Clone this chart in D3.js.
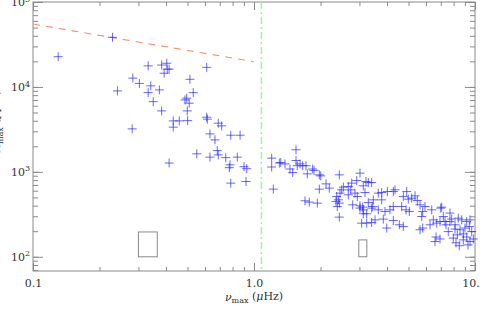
<!DOCTYPE html>
<html>
<head>
<meta charset="utf-8">
<script src="https://cdn.jsdelivr.net/npm/d3@7"></script>
<style>
  body { margin: 0; background: #fff; }
</style>
</head>
<body>
<svg width="480" height="319"></svg>
<script>
// axis ticks / labels
const xMajor = [0.1, 1, 10];
const xLabels = ["0.1", "1.0", "10."];
const yMajor = [1e2, 1e3, 1e4, 1e5];
const yExponents = ["2", "3", "4", "5"];

// stars below the cut (nu_max in muHz, amplitude)
const lowStars = [
  [0.130, 22700], [0.229, 38400], [0.332, 17700], [0.382, 18100], [0.403, 19000],
  [0.405, 16200], [0.413, 16200], [0.392, 14500], [0.611, 17000], [0.283, 12700],
  [0.303, 11000], [0.341, 10300], [0.332, 8570], [0.373, 9220], [0.241, 8970],
  [0.513, 12300], [0.531, 8570], [0.496, 7370], [0.487, 7030], [0.509, 6430],
  [0.350, 6710], [0.382, 5220], [0.499, 5220], [0.611, 4400], [0.615, 4170],
  [0.431, 3980], [0.459, 3980], [0.501, 4010], [0.431, 3360], [0.281, 3210],
  [0.689, 3740], [0.714, 3480], [0.632, 2800], [0.666, 2380], [0.785, 2700],
  [0.865, 2700], [0.551, 1630], [0.682, 1780], [0.689, 1585], [0.632, 1490],
  [0.745, 1470], [0.840, 1490], [0.413, 1270], [0.779, 1210], [0.773, 1120],
  [0.901, 1150], [0.927, 1090], [0.785, 736], [0.920, 770]
];

// stars above the cut
const highStars = [
  [1.202, 1450], [1.202, 1140], [1.223, 626], [1.302, 1270], [1.549, 1820],
  [1.321, 1290], [1.381, 1240], [1.455, 1080], [1.497, 981], [1.549, 1360],
  [1.570, 1180], [1.615, 1240], [1.661, 1180], [1.719, 1180], [1.743, 947],
  [1.843, 1080], [1.868, 1040], [1.975, 922], [2.004, 897], [2.432, 922],
  [3.017, 965], [1.975, 626], [2.118, 722], [2.191, 643], [1.701, 456],
  [1.779, 440], [1.934, 428], [2.367, 512], [2.407, 468], [2.350, 447],
  [2.432, 428], [2.382, 391], [2.494, 614], [2.536, 661], [2.671, 671],
  [2.768, 736], [2.916, 790], [2.739, 614], [2.864, 561], [2.934, 512],
  [2.671, 536], [2.450, 561], [2.797, 409], [3.017, 374], [3.122, 357],
  [3.212, 770], [3.290, 748], [3.122, 684], [3.179, 571], [3.290, 435],
  [3.444, 391], [3.017, 398], [3.122, 321], [3.236, 321], [2.432, 293],
  [3.070, 249], [3.236, 249], [3.408, 253],
  [3.408, 748], [3.651, 561], [3.783, 571], [4.011, 586], [4.269, 586],
  [3.466, 468], [3.783, 468], [3.408, 374], [3.651, 357], [3.914, 341],
  [4.125, 357], [4.269, 391], [3.528, 272], [3.847, 278], [3.986, 218],
  [4.269, 267], [4.738, 512], [4.991, 477], [5.172, 491], [5.483, 460],
  [5.639, 409], [4.659, 391], [4.873, 357], [5.044, 341], [5.940, 391],
  [5.799, 341], [6.371, 357], [6.995, 374], [7.704, 327], [5.739, 298],
  [6.478, 272], [6.944, 260], [7.316, 260], [7.704, 260], [4.545, 238],
  [4.738, 227], [5.639, 208], [5.799, 218], [6.709, 249], [7.391, 238],
  [8.122, 238], [8.404, 285], [8.707, 272], [9.172, 260], [9.493, 272],
  [8.122, 212], [8.554, 208], [9.010, 218], [9.424, 227], [9.663, 198],
  [8.318, 181], [8.852, 186], [9.172, 171], [6.662, 171], [6.944, 162],
  [6.592, 151], [7.570, 198], [7.976, 166], [8.492, 135], [9.493, 151],
  [9.825, 162], [8.852, 158], [7.846, 278], [6.259, 238], [7.189, 298],
  [4.345, 614], [4.909, 586], [5.352, 522], [7.068, 384], [3.103, 384],
  [9.296, 138], [8.204, 146]
];

// upper limit line and the cut
const limitNu = [0.1, 1.0];
const limitAmp = [55000, 19800];
const cutNu = 1.08;

// error boxes: nu0, nu1, amp0, amp1
const boxes = [
  [0.30, 0.365, 100, 196],
  [2.98, 3.24, 100, 158]
];

const svg = d3.select("svg"),
    width = +svg.attr("width"),
    height = +svg.attr("height");
const margin = { top: 2, right: 5, bottom: 48, left: 33 };
const axisColor = "#8a8a8a";
const textColor = "#333";
const fontFam = "'DejaVu Serif', 'Liberation Serif', serif";

const x = d3.scaleLog().domain([0.1, 10]).range([margin.left, width - margin.right]);
const y = d3.scaleLog().domain([68, 1e5]).range([height - margin.bottom, margin.top]);
const bottomY = height - margin.bottom;
const rightX = width - margin.right;

// frame
svg.append("rect")
    .attr("x", margin.left)
    .attr("y", margin.top)
    .attr("width", rightX - margin.left)
    .attr("height", bottomY - margin.top)
    .attr("fill", "none")
    .attr("stroke", axisColor);

function tidy(g) {
    g.select(".domain").remove();
    g.selectAll("line").attr("stroke", axisColor);
    g.attr("font-family", fontFam).attr("font-size", 11);
    g.selectAll("text").attr("fill", textColor);
}

// bottom
svg.append("g").attr("transform", `translate(0,${bottomY})`)
    .call(d3.axisBottom(x).tickValues(x.ticks()).tickSize(-4).tickFormat(""))
    .call(tidy);
svg.append("g").attr("transform", `translate(0,${bottomY})`)
    .call(d3.axisBottom(x).tickValues(xMajor).tickSize(-8).tickPadding(8)
        .tickFormat((d, i) => xLabels[i]))
    .call(tidy)
    .selectAll("text").attr("dx", (d, i) => i === xMajor.length - 1 ? "-0.4em" : 0);

// top
svg.append("g").attr("transform", `translate(0,${margin.top})`)
    .call(d3.axisTop(x).tickValues(x.ticks()).tickSize(-4).tickFormat(""))
    .call(tidy);
svg.append("g").attr("transform", `translate(0,${margin.top})`)
    .call(d3.axisTop(x).tickValues(xMajor).tickSize(-8).tickFormat(""))
    .call(tidy);

// left
svg.append("g").attr("transform", `translate(${margin.left},0)`)
    .call(d3.axisLeft(y).tickValues(y.ticks()).tickSize(-5).tickFormat(""))
    .call(tidy);
const yAx = svg.append("g").attr("transform", `translate(${margin.left},0)`)
    .call(d3.axisLeft(y).tickValues(yMajor).tickSize(-10).tickPadding(3).tickFormat(""))
    .call(tidy);
yAx.selectAll("text").each(function(d, i) {
    const t = d3.select(this);
    t.text("10");
    t.append("tspan").attr("dy", "-0.55em").attr("font-size", 8).text(yExponents[i]);
});

// right
svg.append("g").attr("transform", `translate(${rightX},0)`)
    .call(d3.axisRight(y).tickValues(y.ticks()).tickSize(-5).tickFormat(""))
    .call(tidy);
svg.append("g").attr("transform", `translate(${rightX},0)`)
    .call(d3.axisRight(y).tickValues(yMajor).tickSize(-10).tickFormat(""))
    .call(tidy);

// axis titles
const xt = svg.append("text")
    .attr("x", (margin.left + rightX) / 2)
    .attr("y", 301)
    .attr("text-anchor", "middle")
    .attr("font-family", fontFam)
    .attr("font-size", 11)
    .attr("fill", textColor);
xt.append("tspan").attr("font-style", "italic").text("ν");
xt.append("tspan").attr("dy", "0.3em").attr("font-size", 8).text("max");
xt.append("tspan").attr("dy", "-0.3em").text(" (");
xt.append("tspan").attr("font-style", "italic").text("μ");
xt.append("tspan").text("Hz)");

const yt = svg.append("text")
    .attr("transform", "translate(0,152) rotate(-90)")
    .attr("text-anchor", "start")
    .attr("font-family", fontFam)
    .attr("font-size", 11)
    .attr("fill", textColor);
yt.append("tspan").attr("font-style", "italic").text("A");
yt.append("tspan").attr("dy", "0.35em").attr("font-size", 8).text("max");
yt.append("tspan").attr("dy", "-0.35em").text(" (ppm)");

// cut line
svg.append("line")
    .attr("x1", x(cutNu)).attr("x2", x(cutNu))
    .attr("y1", margin.top).attr("y2", bottomY)
    .attr("stroke", "#a8f0b0")
    .attr("stroke-width", 1.6)
    .attr("stroke-dasharray", "7,3,2,3");

// limit line
svg.append("path")
    .datum(limitNu.map((d, i) => [d, limitAmp[i]]))
    .attr("fill", "none")
    .attr("stroke", "#f5906e")
    .attr("stroke-width", 1.1)
    .attr("stroke-dasharray", "7,6")
    .attr("d", d3.line().x(d => x(d[0])).y(d => y(d[1])));

// boxes
svg.selectAll(".box")
    .data(boxes)
    .enter()
    .append("rect")
    .attr("class", "box")
    .attr("x", d => x(d[0]))
    .attr("width", d => x(d[1]) - x(d[0]))
    .attr("y", d => y(d[3]))
    .attr("height", d => y(d[2]) - y(d[3]))
    .attr("fill", "none")
    .attr("stroke", "#8a8a8a");

// stars
const plus = "M-4.5,0H4.5M0,-4.5V4.5";
svg.append("g")
    .selectAll("path")
    .data(lowStars.concat(highStars))
    .enter()
    .append("path")
    .attr("d", plus)
    .attr("transform", d => `translate(${x(d[0])},${y(d[1])})`)
    .attr("fill", "none")
    .attr("stroke", "#2a2aff")
    .attr("stroke-opacity", 0.7)
    .attr("stroke-width", 1);
</script>
</body>
</html>
